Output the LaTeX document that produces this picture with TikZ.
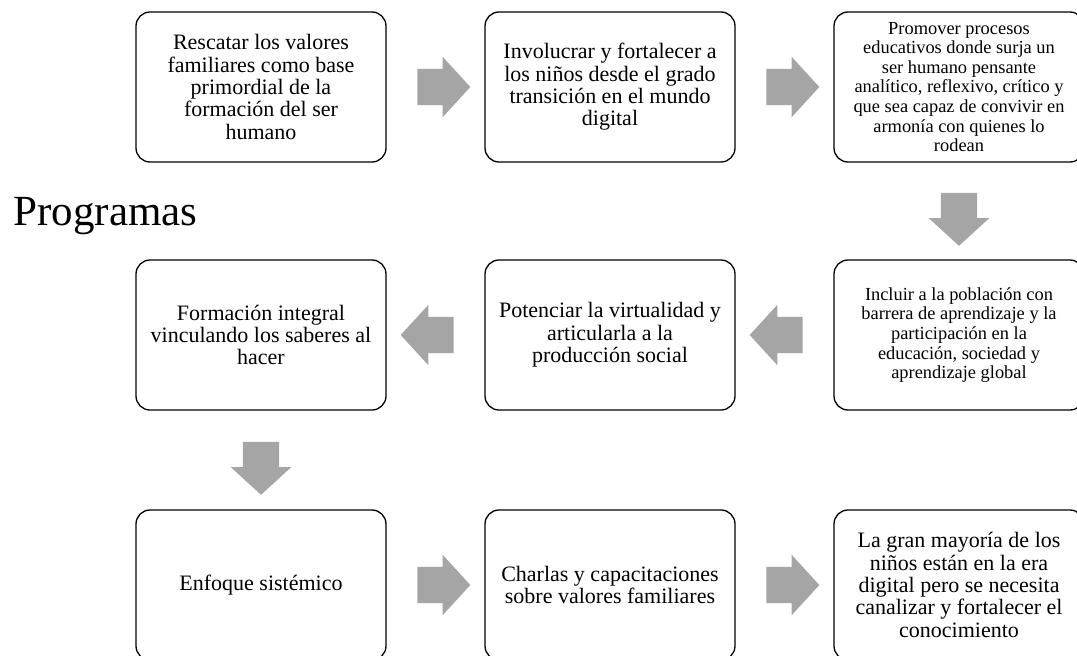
\documentclass[tikz,border=0pt]{standalone}
\usepackage{tikz}
\usepackage{fontspec}
\setmainfont{Liberation Serif}
\usetikzlibrary{positioning,calc,shapes.arrows}
\definecolor{flechagris}{HTML}{A5A5A5}

\begin{document}
\begin{tikzpicture}[x=1pt,y=1pt,
  caja/.style={draw,line width=1.3pt,rounded corners=14pt,minimum width=250pt,
    minimum height=150pt,align=center,inner sep=4pt,
    font=\fontsize{22}{22.4}\selectfont},
  cajachica/.style={caja,font=\fontsize{18.4}{19.6}\selectfont},
  flecha/.style={single arrow,fill=flechagris,draw=none,inner xsep=0pt,
    inner ysep=18pt,minimum height=53pt,single arrow head extend=12pt,
    single arrow tip angle=95}]
  \useasboundingbox (0,0) rectangle (1077,-656);
  \node[anchor=base west,font=\fontsize{43}{48}\selectfont] (titulo) at (10,-225) {Programas};
  % fila 1
  \node[caja] (r1c1) at (261,-87) {Rescatar los valores\\familiares como base\\primordial de la\\formación del ser\\humano};
  \node[caja] (r1c2) at (610,-87) {Involucrar y fortalecer a\\los niños desde el grado\\transición en el mundo\\digital};
  \node[cajachica] (r1c3) at (959,-87) {Promover procesos\\educativos donde surja un\\ser humano pensante\\analítico, reflexivo, crítico y\\que sea capaz de convivir en\\armonía con quienes lo\\rodean};
  % fila 2
  \node[caja] (r2c1) at (261,-335) {Formación integral\\vinculando los saberes al\\hacer};
  \node[caja] (r2c2) at (610,-335) {Potenciar la virtualidad y\\articularla a la\\producción social};
  \node[cajachica] (r2c3) at (959,-335) {Incluir a la población con\\barrera de aprendizaje y la\\participación en la\\educación, sociedad y\\aprendizaje global};
  % fila 3
  \node[caja] (r3c1) at (261,-585) {Enfoque sistémico};
  \node[caja] (r3c2) at (610,-585) {Charlas y capacitaciones\\sobre valores familiares};
  \node[caja] (r3c3) at (959,-585) {La gran mayoría de los\\niños están en la era\\digital pero se necesita\\canalizar y fortalecer el\\conocimiento};
  % flechas
  \node[flecha] (f12) at ($(r1c1.east)!0.5!(r1c2.west)$) {};
  \node[flecha] (f23) at ($(r1c2.east)!0.5!(r1c3.west)$) {};
  \node[flecha,rotate=-90] (f34) at ($(r1c3.south)!0.5!(r2c3.north)$) {};
  \node[flecha,rotate=180] (f45) at ($(r2c3.west)!0.5!(r2c2.east)$) {};
  \node[flecha,rotate=180] (f56) at ($(r2c2.west)!0.5!(r2c1.east)$) {};
  \node[flecha,rotate=-90] (f67) at ($(r2c1.south)!0.5!(r3c1.north)$) {};
  \node[flecha] (f78) at ($(r3c1.east)!0.5!(r3c2.west)$) {};
  \node[flecha] (f89) at ($(r3c2.east)!0.5!(r3c3.west)$) {};
\end{tikzpicture}
\end{document}
